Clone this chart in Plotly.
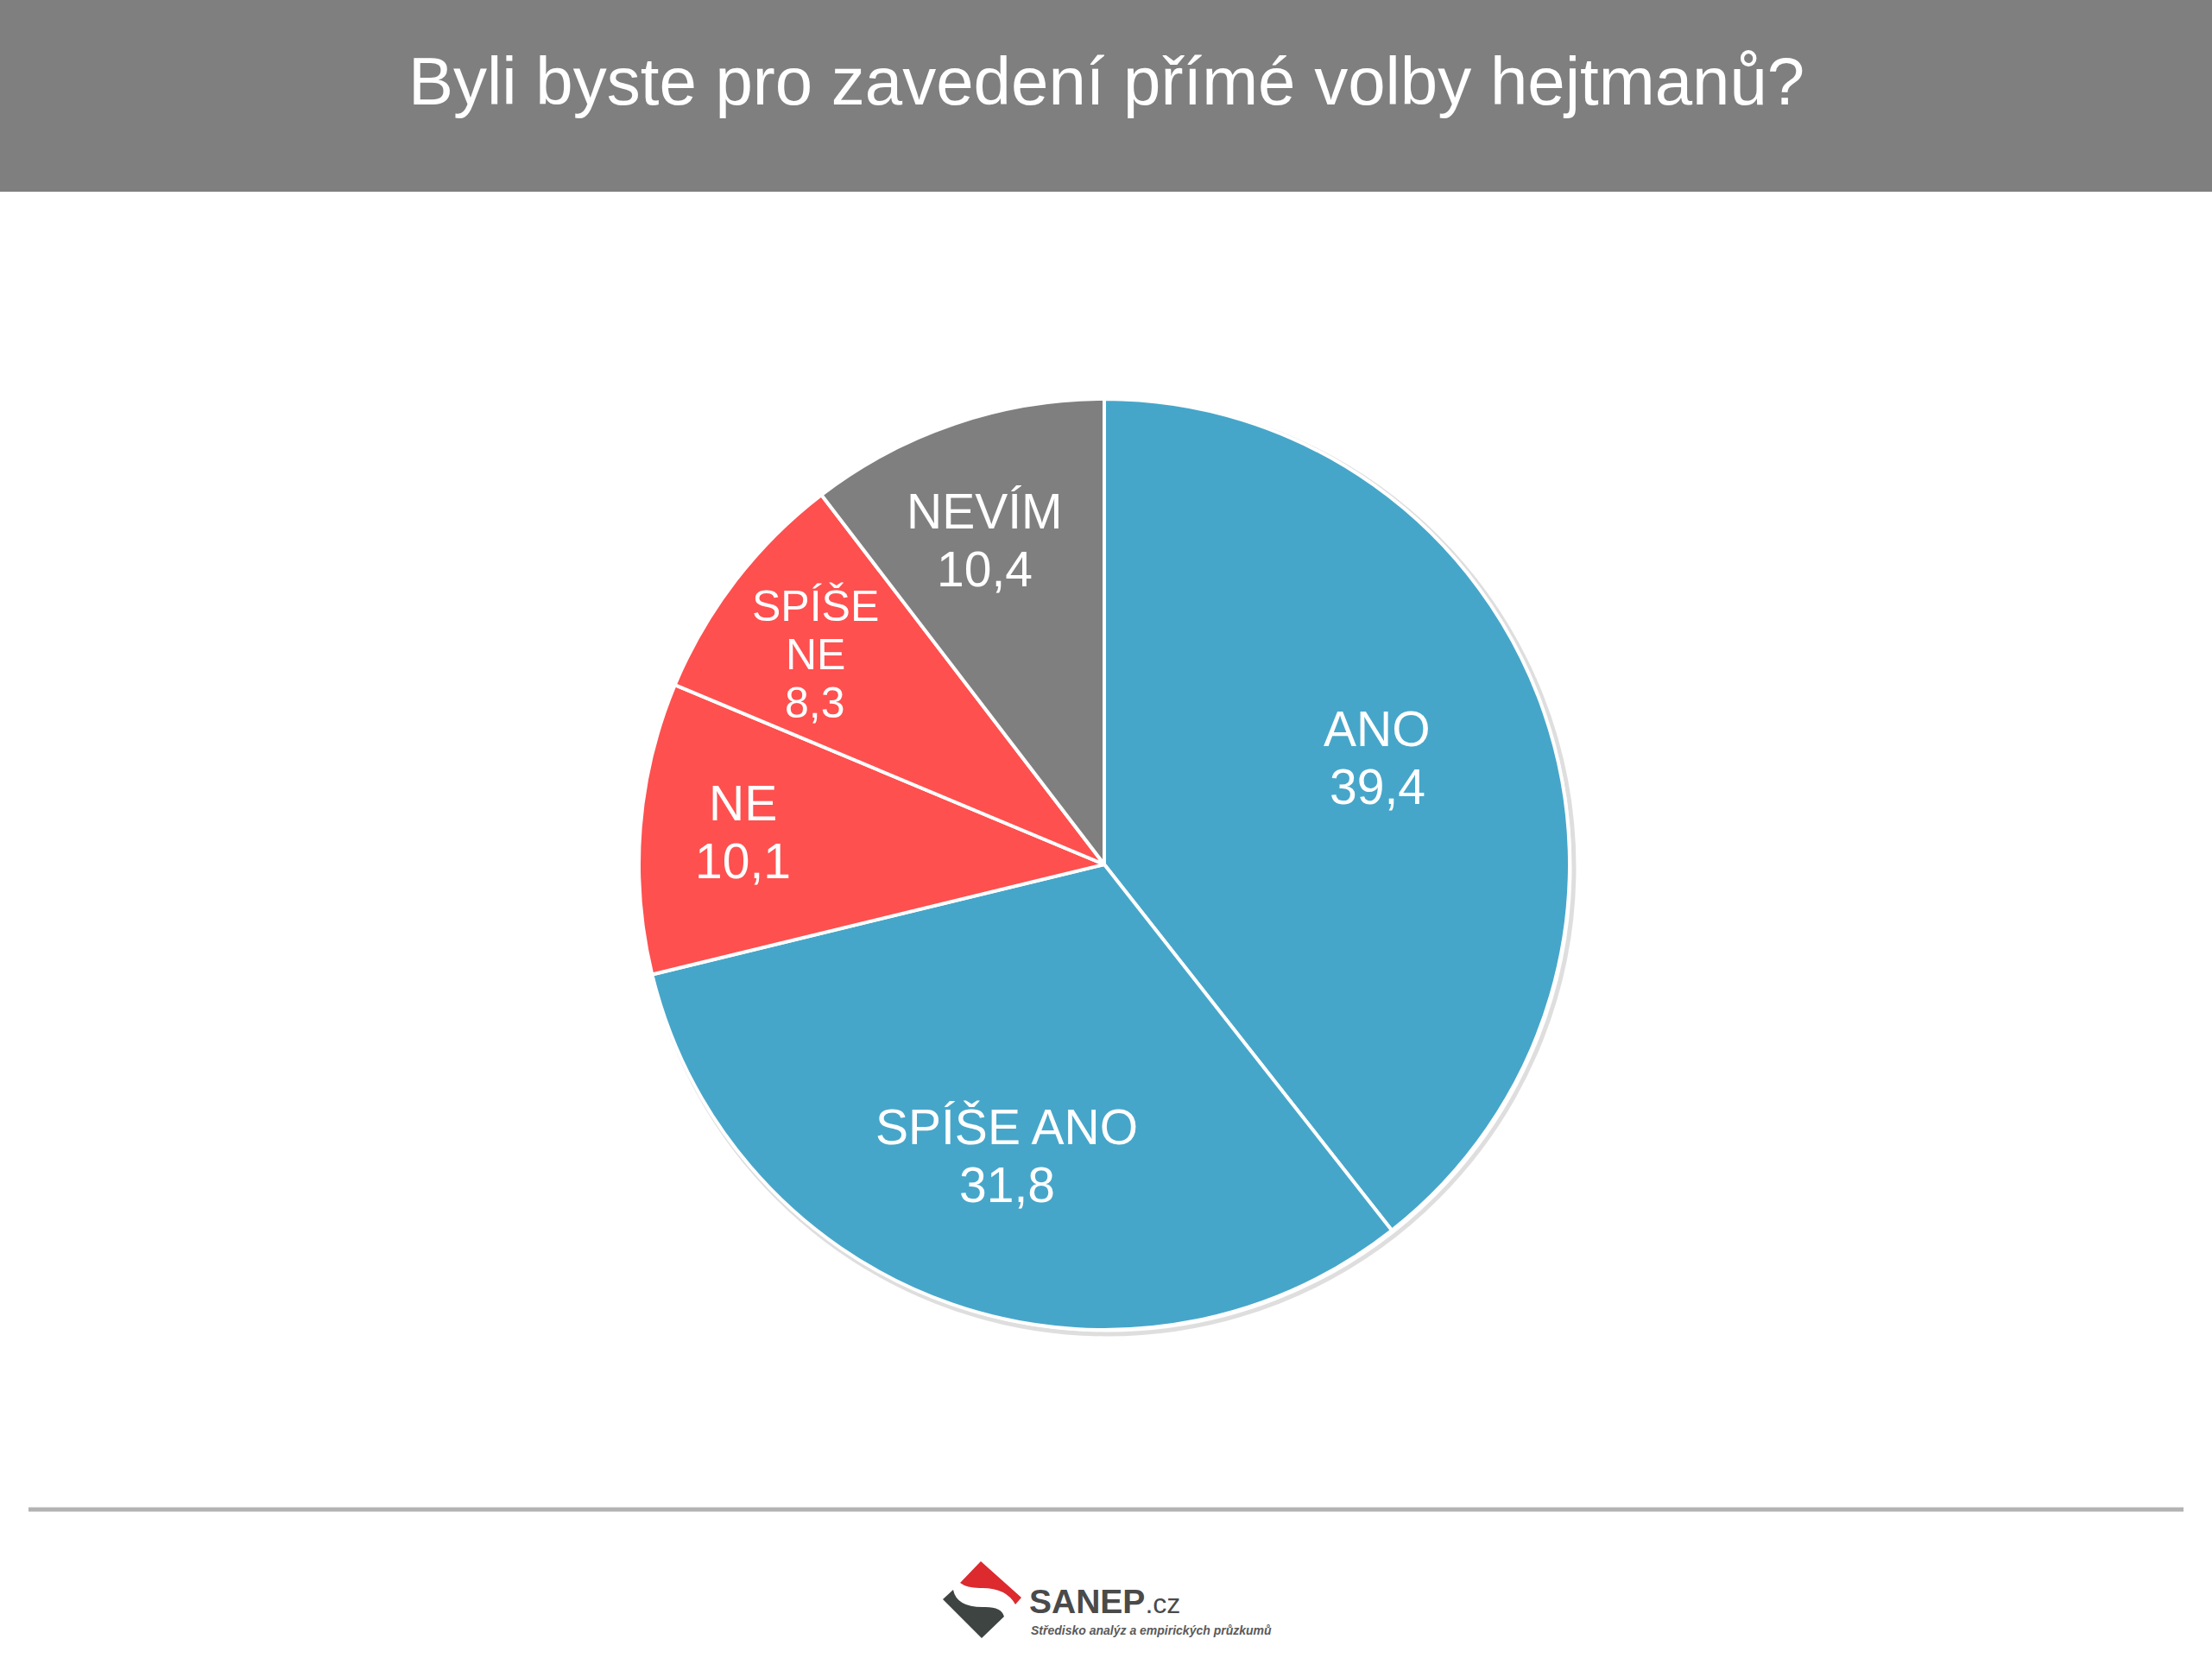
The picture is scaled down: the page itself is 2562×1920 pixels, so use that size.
import math
import plotly.graph_objects as go

# ---- data ----
title_text = "Byli byste pro zavedení přímé volby hejtmanů?"
categories = ["ANO", "SPÍŠE ANO", "NE", "SPÍŠE NE", "NEVÍM"]
category_lines = [["ANO"], ["SPÍŠE ANO"], ["NE"], ["SPÍŠE", "NE"], ["NEVÍM"]]
values = [39.4, 31.8, 10.1, 8.3, 10.4]
slice_colors = ["#46A6C9", "#46A6C9", "#FE504F", "#FE504F", "#7F7F7F"]

# ---- layout constants (pixels / degrees) ----
W, H = 2562, 1920
CX, CY, R = 1279, 1001, 539
label_r_frac = [0.63, 0.66, 0.78, 0.768, 0.742]
label_angle_adj = [-2.3, -0.6, 0.6, -1.6, -1.5]
label_font_size = [57, 57, 57, 50, 57]
label_pitch = [67, 67, 67, 56, 67]
FONT = "Liberation Sans, Arial, sans-serif"


def px(x):
    return x / W


def py(y):
    return 1 - y / H


fig = go.Figure()
fig.add_trace(go.Pie(
    labels=categories,
    values=values,
    sort=False,
    direction="clockwise",
    rotation=0,
    marker=dict(colors=slice_colors, line=dict(color="white", width=4)),
    textinfo="none",
    hovertemplate="%{label}: %{value}<extra></extra>",
    domain=dict(x=[px(CX - R), px(CX + R)], y=[py(CY + R), py(CY - R)]),
    showlegend=False,
))

annotations = []
total = sum(values)
cum = 0.0
for i, v in enumerate(values):
    mid = (cum + v / 2) / total * 2 * math.pi + math.radians(label_angle_adj[i])
    cum += v
    r = R * label_r_frac[i]
    lx = CX + r * math.sin(mid)
    ly = CY - r * math.cos(mid)
    lines = category_lines[i] + [f"{v:.1f}".replace(".", ",")]
    n = len(lines)
    for k, line in enumerate(lines):
        yk = ly + (k - (n - 1) / 2) * label_pitch[i]
        annotations.append(dict(
            x=px(lx), y=py(yk), xref="paper", yref="paper",
            text=line, showarrow=False, xanchor="center", yanchor="middle",
            font=dict(family=FONT, size=label_font_size[i], color="white"),
        ))

# title
annotations.append(dict(
    x=0.5, y=py(94), xref="paper", yref="paper", text=title_text,
    showarrow=False, xanchor="center", yanchor="middle",
    font=dict(family=FONT, size=78, color="white"),
))

# logo texts
annotations.append(dict(
    x=px(1190), y=py(1854), xref="paper", yref="paper",
    text="<b>SANEP</b><span style='font-size:32px'>.cz</span>",
    showarrow=False, xanchor="left", yanchor="middle",
    font=dict(family=FONT, size=39, color="#4A4A4A"),
))
annotations.append(dict(
    x=px(1192), y=py(1888), xref="paper", yref="paper",
    text="<b><i>Středisko analýz a empirických průzkumů</i></b>",
    showarrow=False, xanchor="left", yanchor="middle",
    font=dict(family=FONT, size=14, color="#5A5A5A"),
))


def P(x, y):
    return f"{px(x):.5f},{py(y):.5f}"


shapes = [
    # header band
    dict(type="rect", xref="paper", yref="paper", x0=0, x1=1, y0=py(222), y1=1,
         fillcolor="#7F7F7F", line=dict(width=0), layer="below"),
    # pie soft shadow
    dict(type="circle", xref="paper", yref="paper",
         x0=px(CX - R + 2), x1=px(CX + R + 5), y0=py(CY + R + 5), y1=py(CY - R + 2),
         fillcolor="rgba(0,0,0,0)", line=dict(color="rgba(0,0,0,0.13)", width=5),
         layer="below"),
    # separator line
    dict(type="line", xref="paper", yref="paper", x0=px(33), x1=px(2529),
         y0=py(1748), y1=py(1748), line=dict(color="#B3B3B3", width=5)),
    # logo red part
    dict(type="path", xref="paper", yref="paper",
         path=(f"M {P(1112,1833)} L {P(1136,1808)} L {P(1183,1850)} L {P(1176,1858)} "
               f"Q {P(1165,1838)} {P(1135,1839)} Q {P(1120,1839)} {P(1112,1833)} Z"),
         fillcolor="#DC2A2E", line=dict(width=0)),
    # logo dark part
    dict(type="path", xref="paper", yref="paper",
         path=(f"M {P(1092,1852)} L {P(1104,1841)} Q {P(1108,1861)} {P(1138,1861)} "
               f"Q {P(1160,1860)} {P(1163,1872)} L {P(1137,1897)} Z"),
         fillcolor="#3E4442", line=dict(width=0)),
]

fig.update_layout(
    width=W, height=H,
    margin=dict(l=0, r=0, t=0, b=0),
    paper_bgcolor="white", plot_bgcolor="white",
    annotations=annotations,
    shapes=shapes,
    showlegend=False,
)

fig.write_html("out.html")
